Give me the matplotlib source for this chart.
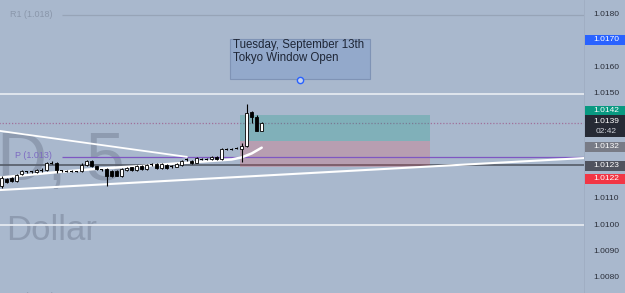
import matplotlib
matplotlib.use("Agg")
import matplotlib.pyplot as plt
from matplotlib.patches import Rectangle

# 5 min candles (oldest first)
opens = [1.01149, 1.01176, 1.01180, 1.01168, 1.01195, 1.01204, 1.01203, 1.01202, 1.01210, 1.01210,
         1.01237, 1.01237, 1.01208, 1.01206, 1.01206, 1.01205, 1.01207, 1.01228, 1.01245, 1.01225,
         1.01211, 1.01213, 1.01206, 1.01205, 1.01187, 1.01209, 1.01220, 1.01210, 1.01225, 1.01213,
         1.01232, 1.01232, 1.01216, 1.01229, 1.01223, 1.01222, 1.01229, 1.01251, 1.01245, 1.01238,
         1.01252, 1.01251, 1.01251, 1.01261, 1.01252, 1.01290, 1.01289, 1.01292, 1.01290, 1.01302,
         1.01430, 1.01413, 1.01360]
highs = [1.01187, 1.01180, 1.01183, 1.01195, 1.01210, 1.01206, 1.01206, 1.01213, 1.01218, 1.01240,
         1.01244, 1.01240, 1.01210, 1.01209, 1.01209, 1.01208, 1.01237, 1.01249, 1.01249, 1.01227,
         1.01213, 1.01216, 1.01210, 1.01209, 1.01216, 1.01220, 1.01223, 1.01229, 1.01228, 1.01232,
         1.01235, 1.01235, 1.01235, 1.01232, 1.01229, 1.01235, 1.01249, 1.01255, 1.01249, 1.01258,
         1.01255, 1.01255, 1.01264, 1.01264, 1.01292, 1.01293, 1.01293, 1.01296, 1.01312, 1.01461,
         1.01436, 1.01419, 1.01391]
lows = [1.01141, 1.01160, 1.01164, 1.01164, 1.01191, 1.01200, 1.01200, 1.01200, 1.01202, 1.01206,
        1.01233, 1.01198, 1.01204, 1.01203, 1.01203, 1.01203, 1.01204, 1.01225, 1.01222, 1.01210,
        1.01207, 1.01149, 1.01185, 1.01186, 1.01184, 1.01206, 1.01207, 1.01207, 1.01210, 1.01210,
        1.01225, 1.01213, 1.01213, 1.01213, 1.01216, 1.01220, 1.01226, 1.01245, 1.01232, 1.01235,
        1.01249, 1.01249, 1.01249, 1.01249, 1.01249, 1.01286, 1.01286, 1.01289, 1.01242, 1.01299,
        1.01390, 1.01358, 1.01358]
closes = [1.01180, 1.01164, 1.01168, 1.01191, 1.01206, 1.01203, 1.01204, 1.01210, 1.01209, 1.01237,
          1.01236, 1.01210, 1.01207, 1.01206, 1.01205, 1.01206, 1.01229, 1.01245, 1.01225, 1.01213,
          1.01210, 1.01188, 1.01188, 1.01189, 1.01213, 1.01216, 1.01210, 1.01225, 1.01213, 1.01229,
          1.01231, 1.01216, 1.01232, 1.01216, 1.01222, 1.01232, 1.01245, 1.01250, 1.01235, 1.01255,
          1.01251, 1.01252, 1.01261, 1.01251, 1.01289, 1.01289, 1.01290, 1.01293, 1.01302, 1.01426,
          1.01411, 1.01360, 1.01388]

# moving average (bar index, price)
ma_x = [-1, 10, 20, 28, 40, 46, 48, 50, 52]
ma_y = [1.01180, 1.01200, 1.01216, 1.01225, 1.01242, 1.01250, 1.01258, 1.01273, 1.01295]

# drawn trend lines
desc_x = [-2, 37]
desc_y = [1.01363, 1.01260]
rise_x = [-2, 117]
rise_y = [1.01132, 1.01256]

# levels
r1 = 1.0180
pivot = 1.0126
s1 = 1.0073
line_1150 = 1.0150
line_1100 = 1.0100
line_dark = 1.01228

# long position tool
pos_x = [47.7, 85.7]
pos_entry, pos_target, pos_stop = 1.0132, 1.0142, 1.0122

# price scale
tick_vals = [1.0180, 1.0160, 1.0150, 1.0110, 1.0100, 1.0090, 1.0080]
tag_text = ['1.0170', '1.0142', '1.0132', '1.0123', '1.0122']
tag_pos = [1.01705, 1.01436, 1.01299, 1.01226, 1.01176]
tag_col = ['#2962ff', '#089981', '#787b86', '#50535e', '#f23645']
last_text = '1.0139'
countdown = '02:42'

bg = '#a9b8cd'
px = 1 / 26270.0  # price per pixel

fig = plt.figure(figsize=(6.25, 2.93), dpi=100)
fig.patch.set_facecolor(bg)
ax = fig.add_axes([0, 0, 584 / 625, 1])
ax.set_facecolor(bg)
ax.set_xlim(-0.34, 116.46)
ax.set_ylim(1.007417, 1.018571)
ax.axis('off')

font = 'Liberation Sans'

# watermark
ax.text(-0.9, 1.011718, 'D, 5', fontsize=50, family=font, color='#8e9bb0', zorder=0)
ax.text(0.95, 1.009418, 'Dollar', fontsize=25, family=font, color='#8e9bb0', zorder=0)

# levels
ax.hlines(r1, 12, 117, color='#97a4b7', lw=0.9, zorder=1)
ax.text(1.6, r1, 'R1 (1.018)', fontsize=6.5, family=font, color='#8a97ab', va='center')
ax.hlines(pivot, 12, 117, color='#7e57c2', lw=0.9, zorder=2)
ax.text(2.6, pivot + 1.5 * px, 'P (1.013)', fontsize=6.5, family=font, color='#7d6ac2', va='center')
ax.text(2.0, s1, 'S1 (1.007)', fontsize=6.5, family=font, color='#8a97ab', va='center')
ax.hlines(line_1150, -1, 117, color='#e4e9f0', lw=1.3, zorder=1)
ax.hlines(line_1100, -1, 117, color='#e4e9f0', lw=1.3, zorder=1)
ax.hlines(line_dark, -1, 117, color='#555c68', lw=1.2, zorder=1)
ax.hlines(closes[-1], -1, 117, color='#a0709a', lw=0.9, linestyles=(0, (1, 1.5)), zorder=1)

# position box
ax.add_patch(Rectangle((pos_x[0], pos_entry), pos_x[1] - pos_x[0], pos_target - pos_entry,
                       facecolor='#089981', alpha=0.25, edgecolor='none', zorder=1))
ax.add_patch(Rectangle((pos_x[0], pos_stop), pos_x[1] - pos_x[0], pos_entry - pos_stop,
                       facecolor='#f23645', alpha=0.2, edgecolor='none', zorder=1))

# trend lines
ax.plot(desc_x, desc_y, color='white', lw=1.3, zorder=3)
ax.plot(rise_x, rise_y, color='white', lw=1.5, zorder=3)
ax.plot(ma_x, ma_y, color='white', lw=1.8, zorder=3, solid_capstyle='round')

# candles
idx = list(range(len(opens)))
ax.vlines(idx, lows, highs, color='black', lw=0.8, zorder=4)
for i in idx:
    o, c = opens[i], closes[i]
    if abs(c - o) < 1.3 * px:
        ax.bar(i, 1.0 * px, bottom=(o + c) / 2 - 0.5 * px, width=0.65, color='black', zorder=5)
    elif c > o:
        ax.bar(i, c - o, bottom=o, width=0.6, facecolor='white', edgecolor='black', lw=0.6, zorder=5)
    else:
        ax.bar(i, o - c, bottom=c, width=0.6, facecolor='black', edgecolor='black', lw=0.6, zorder=5)

# note
ax.add_patch(Rectangle((45.66, 1.015564), 28, 1.017075 - 1.015564,
                       facecolor='#93a9cb', edgecolor='#7f93b5', lw=0.8, zorder=2))
ax.text(46.2, 1.01684, 'Tuesday, September 13th', fontsize=8.3, family=font,
        color='#1e2636', va='center', zorder=3)
ax.text(46.2, 1.01638, 'Tokyo Window Open', fontsize=8.3, family=font,
        color='#1e2636', va='center', zorder=3)
ax.plot([59.66], [1.015537], marker='o', ms=4.5, mfc='#c5d2ee', mec='#2962ff', mew=1, zorder=4)

# price scale
ax2 = fig.add_axes([584 / 625, 0, 41 / 625, 1])
ax2.set_facecolor(bg)
ax2.set_xlim(0, 1)
ax2.set_ylim(ax.get_ylim())
ax2.axis('off')
ax2.axvline(0, color='#9fadc2', lw=0.6)
for v in tick_vals:
    ax2.text(0.54, v, f'{v:.4f}', fontsize=6, family=font, color='#2a2e39', ha='center', va='center')
for t, p, col in zip(tag_text, tag_pos, tag_col):
    ax2.add_patch(Rectangle((0.03, p - 5 * px), 0.97, 10 * px, facecolor=col, edgecolor='none'))
    ax2.text(0.54, p, t, fontsize=6, family=font, color='white', ha='center', va='center')
cur = 1.01377
ax2.add_patch(Rectangle((0.03, cur - 11 * px), 0.97, 22 * px, facecolor='#262a35', edgecolor='none'))
ax2.text(0.54, cur + 5 * px, last_text, fontsize=6, family=font, color='white', ha='center', va='center')
ax2.text(0.54, cur - 5 * px, countdown, fontsize=6, family=font, color='#d1d4dc', ha='center', va='center')

fig.savefig('out.png', dpi=100, facecolor=bg)
